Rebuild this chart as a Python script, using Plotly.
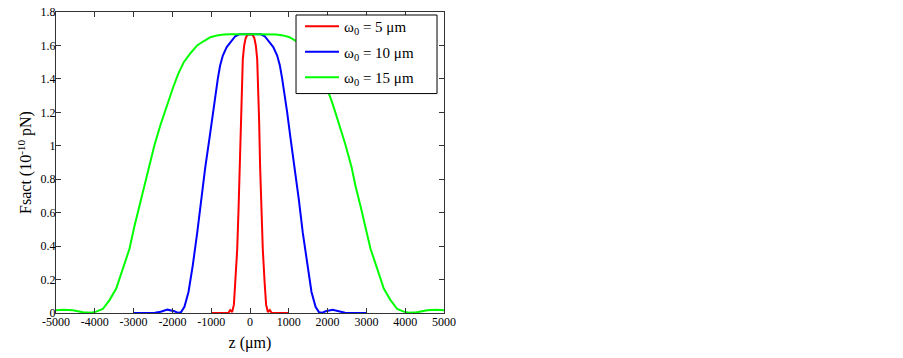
import plotly.graph_objects as go

# ---- data ----
z_red = [-1000, -560, -510, -460, -415, -375, -330, -295, -260, -235, -210, -185, -150, -110, -60, 0,
         60, 110, 150, 185, 210, 235, 260, 295, 330, 375, 415, 460, 510, 560, 1000]
f_red = [0, 0, 0.018, 0.006, 0.05, 0.19, 0.38, 0.62, 0.88, 1.15, 1.38, 1.52, 1.6, 1.645, 1.665, 1.667,
         1.665, 1.645, 1.6, 1.52, 1.38, 1.15, 0.88, 0.62, 0.38, 0.19, 0.05, 0.006, 0.018, 0, 0]

z_blue = [-3000, -2450, -2300, -2130, -1950, -1850, -1780, -1690, -1585, -1475, -1360, -1258, -1155,
          -1044, -958, -900, -830, -770, -700, -600, -480, -380, -280, 0,
          280, 380, 480, 600, 700, 770, 830, 900, 958, 1044, 1155, 1258, 1360, 1475, 1585, 1690, 1780,
          1850, 1950, 2130, 2300, 2450, 3000]
f_blue = [0, 0.001, 0.008, 0.02, 0.01, 0.001, 0.004, 0.037, 0.126, 0.285, 0.48, 0.68, 0.868,
          1.046, 1.2, 1.3, 1.4, 1.48, 1.54, 1.59, 1.625, 1.655, 1.667, 1.667,
          1.667, 1.655, 1.625, 1.59, 1.54, 1.48, 1.4, 1.3, 1.2, 1.046, 0.868, 0.68, 0.48, 0.285, 0.126,
          0.037, 0.004, 0.001, 0.01, 0.02, 0.008, 0.001, 0]

z_green = [-5000, -4800, -4567, -4300, -4100, -3964, -3794, -3621, -3448, -3278, -3106, -2977, -2848,
           -2719, -2620, -2460, -2300, -2200, -2100, -1980, -1850, -1706, -1530, -1361, -1200, -1018,
           -850, -675, -500, 0,
           500, 675, 850, 1018, 1200, 1361, 1530, 1706, 1850, 1980, 2100, 2200, 2300, 2460, 2620, 2719,
           2848, 2977, 3106, 3278, 3448, 3621, 3794, 3964, 4100, 4300, 4567, 4800, 5000]
f_green = [0.016, 0.02, 0.016, 0.004, 0.002, 0.008, 0.024, 0.077, 0.146, 0.265, 0.384, 0.52, 0.64,
           0.76, 0.87, 1.006, 1.13, 1.2, 1.27, 1.35, 1.43, 1.5, 1.555, 1.6, 1.625, 1.649,
           1.66, 1.666, 1.667, 1.667,
           1.667, 1.666, 1.66, 1.649, 1.625, 1.6, 1.555, 1.5, 1.43, 1.35, 1.27, 1.2, 1.13, 1.006, 0.87,
           0.76, 0.64, 0.52, 0.384, 0.265, 0.146, 0.077, 0.024, 0.008, 0.002, 0.004, 0.016, 0.02, 0.016]

names = ["ω<sub>0</sub> = 5 μm", "ω<sub>0</sub> = 10 μm", "ω<sub>0</sub> = 15 μm"]
colors = ["#ff0000", "#0000ff", "#00ff00"]
x_ticks = [-5000, -4000, -3000, -2000, -1000, 0, 1000, 2000, 3000, 4000, 5000]
y_ticks = [0, 0.2, 0.4, 0.6, 0.8, 1, 1.2, 1.4, 1.6, 1.8]

font = "Liberation Serif, Times New Roman, serif"

fig = go.Figure()
for i, (zz, ff, nm, col) in enumerate(zip([z_red, z_blue, z_green], [f_red, f_blue, f_green], names, colors)):
    fig.add_trace(go.Scatter(x=zz, y=ff, mode="lines", name=nm, legendgroup="g%d" % i,
                             line=dict(color=col, width=2)))

axis_common = dict(showgrid=False, zeroline=False, showline=True, linecolor="#333333",
                   linewidth=1, mirror="allticks", ticks="inside", ticklen=5, automargin=False,
                   tickcolor="#333333", tickfont=dict(family=font, size=12, color="black"))

# legend frame drawn as a shape (paper coords of the plot area)
fig.add_shape(type="rect", xref="paper", yref="paper", x0=0.6186, x1=0.982, y0=0.729, y1=0.990,
              line=dict(color="black", width=1), fillcolor="white", layer="above")

fig.update_layout(
    width=903, height=358,
    margin=dict(l=56, r=459, t=10, b=45),
    paper_bgcolor="white", plot_bgcolor="white",
    font=dict(family=font, color="black"),
    showlegend=True,
    legend=dict(x=0.6289, y=1.0066, xanchor="left", yanchor="top",
                bgcolor="rgba(0,0,0,0)", borderwidth=0,
                font=dict(family=font, size=15, color="black"),
                itemwidth=34, tracegroupgap=3),
    xaxis=dict(range=[-5000, 5000], tickvals=x_ticks, ticktext=[str(v) for v in x_ticks],
               ticklabelstandoff=-2,
               title=dict(text="z (μm)", font=dict(family=font, size=16), standoff=8),
               **axis_common),
    yaxis=dict(range=[0, 1.8], tickvals=y_ticks, ticktext=[("%g" % v) for v in y_ticks],
               ticklabelstandoff=-3,
               title=dict(text="Fsact (10<sup>-10</sup> pN)", font=dict(family=font, size=16), standoff=4),
               **axis_common),
)

fig.write_html("out.html", config={"displayModeBar": False},
               post_script="document.body.style.margin='0px';")
